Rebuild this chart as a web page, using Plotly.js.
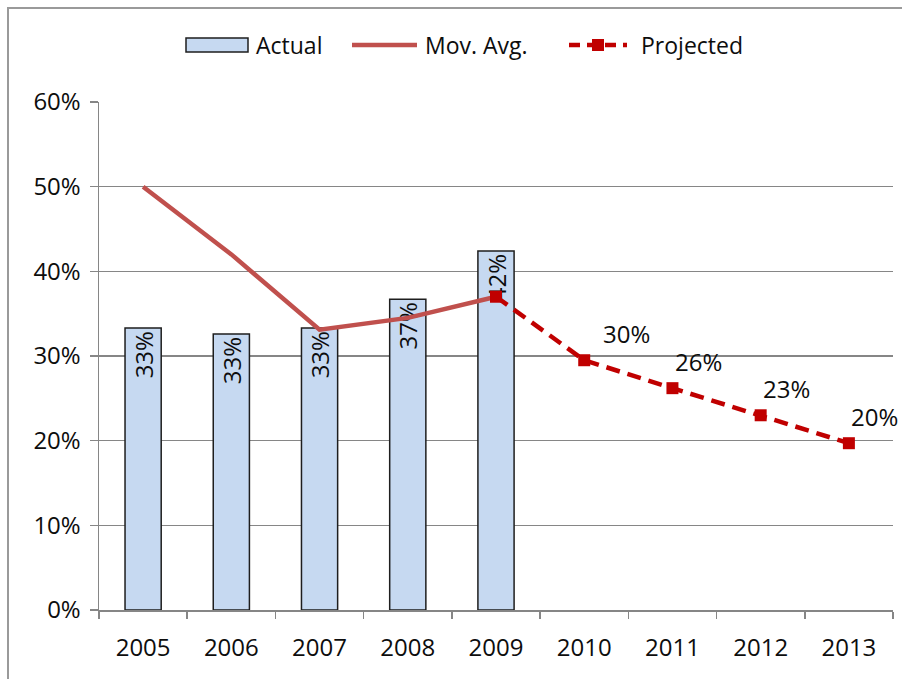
<!DOCTYPE html>
<html>
<head>
<meta charset="utf-8">
<script src="https://cdn.plot.ly/plotly-3.0.1.min.js"></script>
<style>
  html, body { margin: 0; padding: 0; background: #fff; overflow: hidden; }
  #frame { position: absolute; left: 7px; top: 7px; width: 1200px; height: 1200px;
           border-left: 2px solid #9a9a9a; border-top: 2px solid #9a9a9a; }
  #chart { position: absolute; left: 0; top: 0; width: 902px; height: 679px; }
</style>
</head>
<body>
<div id="frame"></div>
<div id="chart"></div>
<script>
// Years on the category axis
const years = ['2005', '2006', '2007', '2008', '2009', '2010', '2011', '2012', '2013'];

// Actual rates (bars)
const actualYears = ['2005', '2006', '2007', '2008', '2009'];
const actual = [0.333, 0.326, 0.333, 0.367, 0.424];

// Moving average (solid line)
const movAvgYears = ['2005', '2006', '2007', '2008', '2009'];
const movAvg = [0.50, 0.42, 0.331, 0.345, 0.37];

// Projection (dashed line with square markers)
const projYears = ['2009', '2010', '2011', '2012', '2013'];
const projected = [0.37, 0.295, 0.262, 0.23, 0.197];

const yTicks = [0, 0.1, 0.2, 0.3, 0.4, 0.5, 0.6];

const FONT = '"Open Sans", Lato, sans-serif';
const FS = 24;
const INK = '#0d0d0d';
const GRID = '#868686';
const BAR_FILL = '#c6d9f1';
const AVG_RED = '#c0504d';
const PROJ_RED = '#c00000';

const pct = v => Math.round(v * 100) + '%';

const traces = [
  {
    type: 'bar', name: 'Actual', x: actualYears, y: actual,
    width: 0.41,
    marker: { color: BAR_FILL, line: { color: '#1e1e1e', width: 1.5 } },
    text: actual.map(pct), textposition: 'inside', insidetextanchor: 'end',
    textangle: -90, constraintext: 'none', cliponaxis: false,
    textfont: { family: FONT, size: FS, color: INK },
    hoverinfo: 'skip', showlegend: false
  },
  {
    type: 'scatter', mode: 'lines', name: 'Mov. Avg.', x: movAvgYears, y: movAvg,
    line: { color: AVG_RED, width: 4.5 },
    hoverinfo: 'skip', showlegend: false
  },
  {
    type: 'scatter', mode: 'lines+markers', name: 'Projected', x: projYears, y: projected,
    line: { color: PROJ_RED, width: 4.5, dash: '14px,8px' },
    marker: { symbol: 'square', size: 12, color: PROJ_RED },
    hoverinfo: 'skip', showlegend: false, cliponaxis: false
  }
];

// Value labels for the projected points (the 2009 anchor point is unlabeled)
const projLabels = projYears.slice(1).map((yr, i) => ({
  x: years.indexOf(yr), y: projected[i + 1], xref: 'x', yref: 'y',
  text: pct(projected[i + 1]), showarrow: false,
  xanchor: 'center', yanchor: 'middle',
  xshift: i === 0 ? 42 : 26, yshift: 27,
  font: { family: FONT, size: FS, color: INK }
}));

// Plot area geometry in pixels, used for the legend row above the plot
const L = 99, R = 9, T = 102, B = 69, W = 902, H = 679;
const PW = W - L - R, PH = H - T - B;
const px = v => (v - L) / PW;
const py = v => (H - B - v) / PH;

const legendRowY = 45;
const legendShapes = [
  { type: 'rect', xref: 'paper', yref: 'paper',
    x0: px(186), x1: px(248), y0: py(38), y1: py(52),
    fillcolor: BAR_FILL, line: { color: '#1e1e1e', width: 1.5 } },
  { type: 'line', xref: 'paper', yref: 'paper',
    x0: px(352), x1: px(417), y0: py(legendRowY), y1: py(legendRowY),
    line: { color: AVG_RED, width: 4.5 } },
  { type: 'line', xref: 'paper', yref: 'paper',
    x0: px(569), x1: px(627), y0: py(legendRowY), y1: py(legendRowY),
    line: { color: PROJ_RED, width: 4.5, dash: '11px,7px' } },
  { type: 'rect', xref: 'paper', yref: 'paper',
    x0: px(592), x1: px(604), y0: py(39), y1: py(51),
    fillcolor: PROJ_RED, line: { width: 0 } }
];
const legendText = [
  { text: 'Actual', x: 254 },
  { text: 'Mov. Avg.', x: 423 },
  { text: 'Projected', x: 639 }
].map(item => ({
  xref: 'paper', yref: 'paper', x: px(item.x), y: py(legendRowY),
  xanchor: 'left', yanchor: 'middle', showarrow: false, text: item.text,
  font: { family: FONT, size: 23, color: INK }
}));

const layout = {
  width: W, height: H,
  margin: { l: L, r: R, t: T, b: B, pad: 0 },
  paper_bgcolor: 'rgba(0,0,0,0)', plot_bgcolor: 'rgba(0,0,0,0)',
  font: { family: FONT, size: FS, color: INK },
  showlegend: false,
  xaxis: {
    type: 'category', categoryorder: 'array', categoryarray: years,
    range: [-0.5, years.length - 0.5],
    showline: true, linecolor: GRID, linewidth: 1.5,
    ticks: 'outside', tickson: 'boundaries', ticklen: 7, tickcolor: GRID, tickwidth: 1.5,
    ticklabelstandoff: 16,
    showgrid: false, zeroline: false,
    tickfont: { family: FONT, size: FS, color: INK }
  },
  yaxis: {
    range: [0, 0.6], tickvals: yTicks, tickformat: '.0%',
    showline: true, linecolor: GRID, linewidth: 1.5,
    ticks: 'outside', ticklen: 8, tickcolor: GRID, tickwidth: 1.5,
    ticklabelstandoff: 4,
    showgrid: true, gridcolor: GRID, gridwidth: 1.5,
    zeroline: false,
    tickfont: { family: FONT, size: FS, color: INK }
  },
  bargap: 0.59,
  shapes: legendShapes,
  annotations: projLabels.concat(legendText)
};

Plotly.newPlot('chart', traces, layout, { displayModeBar: false, staticPlot: true });
</script>
</body>
</html>
